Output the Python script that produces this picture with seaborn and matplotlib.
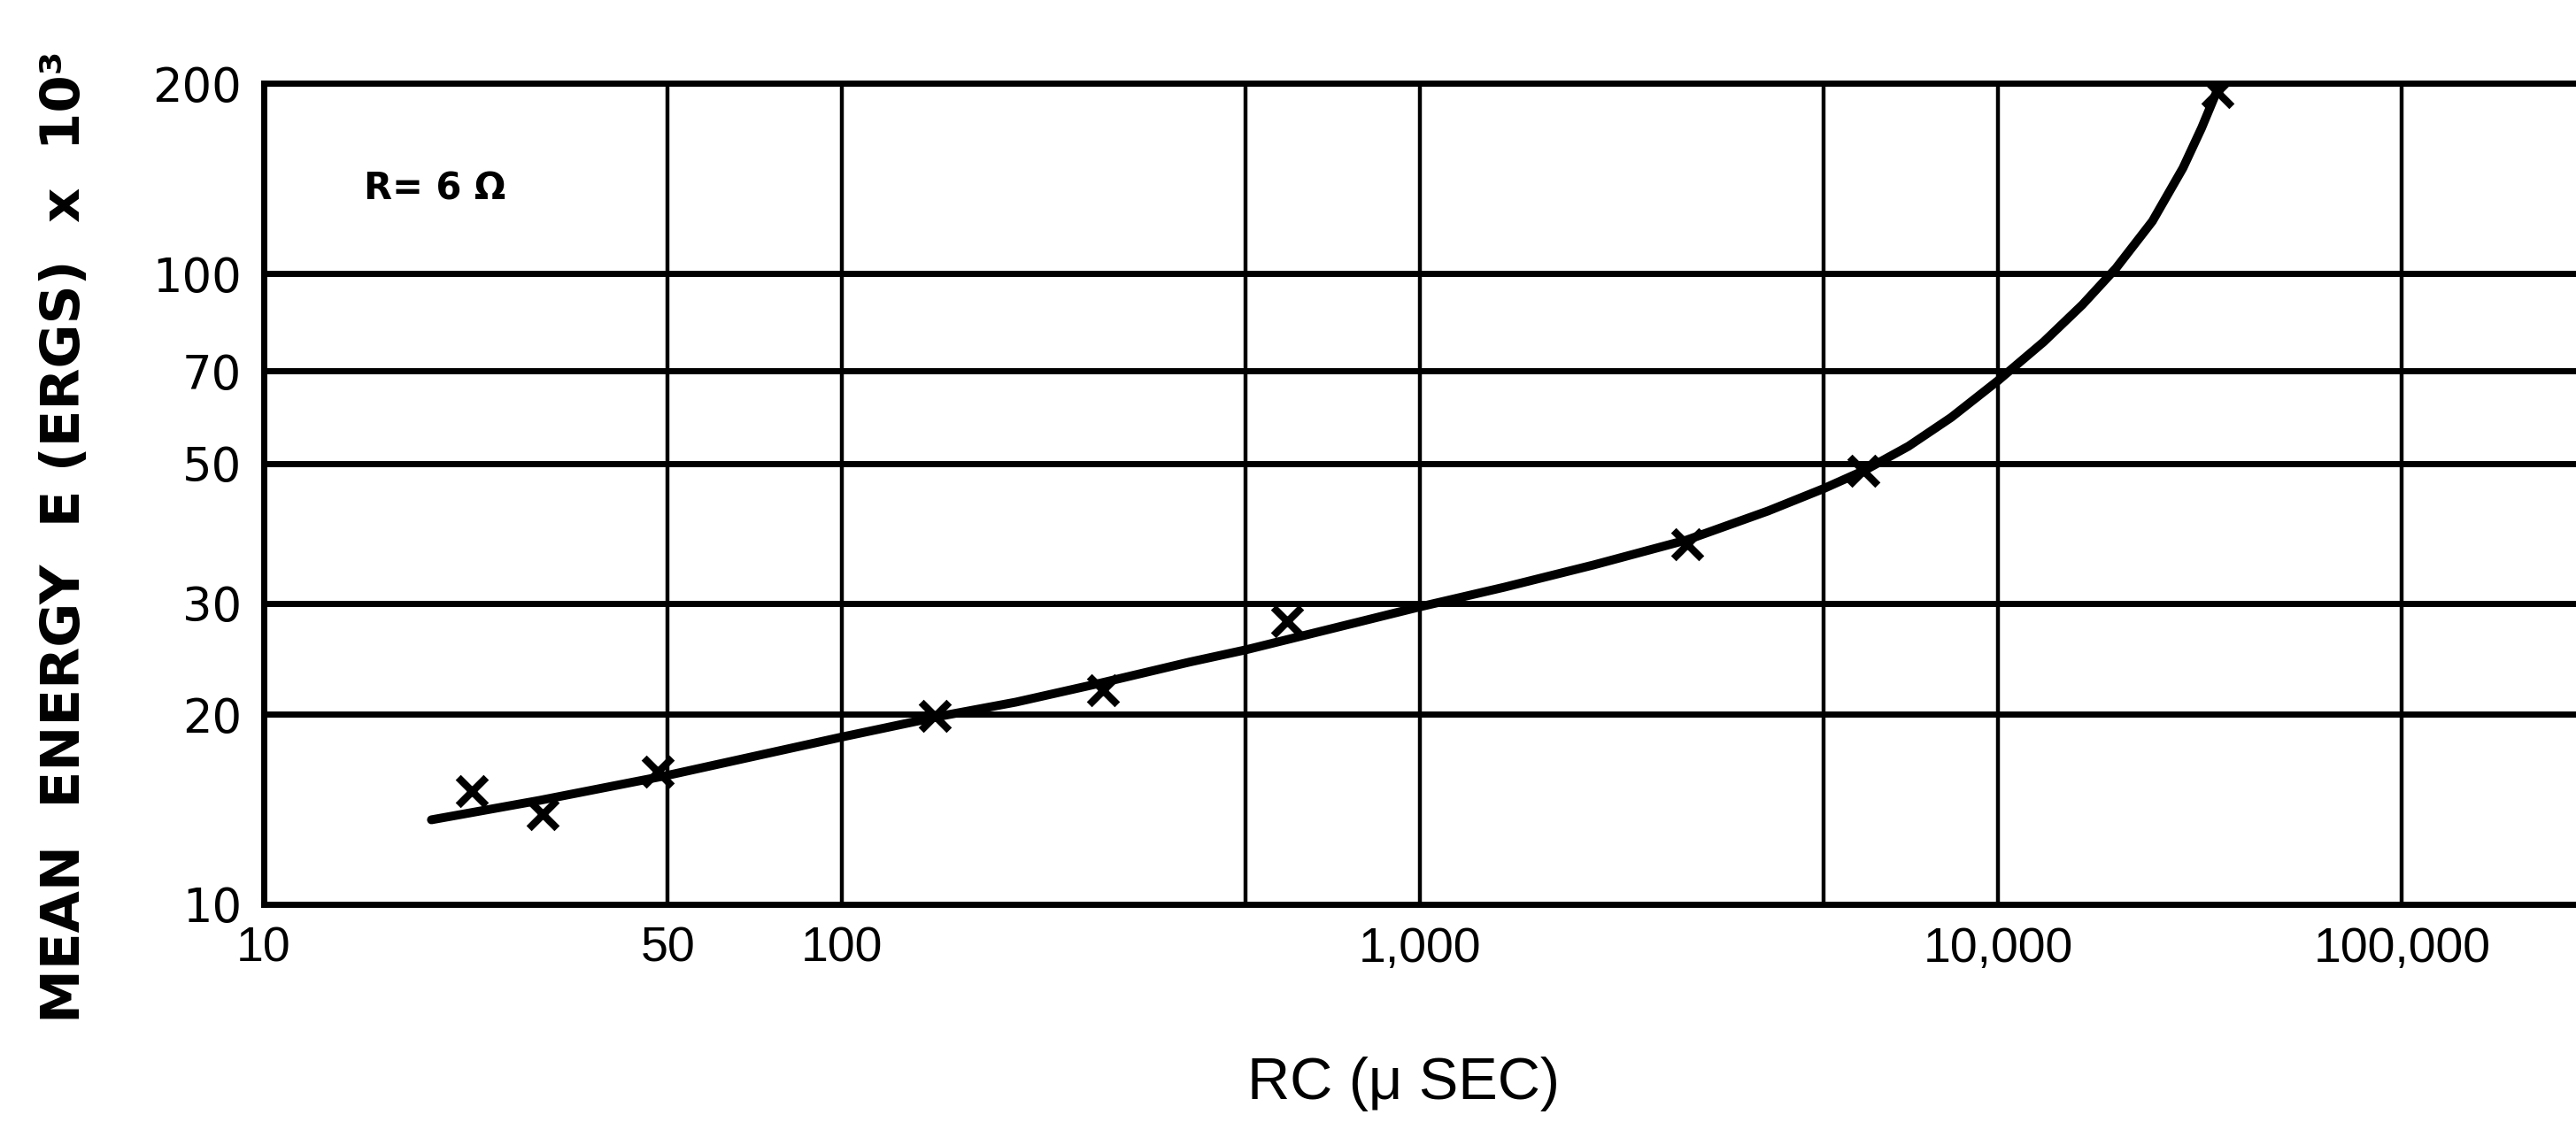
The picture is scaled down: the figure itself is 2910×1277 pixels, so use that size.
import matplotlib
matplotlib.use("Agg")
import matplotlib.pyplot as plt
import matplotlib.ticker as mticker
import seaborn as sns
import pandas as pd

# ---- data ----
curve_rc = [19.5, 30, 50, 100, 150, 200, 280, 400, 500, 700, 1000, 1400, 2000,
            2900, 4000, 5000, 5900, 7000, 8300, 10000, 12000, 14000, 16000,
            18500, 20900, 22500, 24000]
curve_energy = [13.6, 14.6, 16.0, 18.4, 19.9, 20.9, 22.4, 24.2, 25.3, 27.3, 29.6, 31.8, 34.5,
                37.8, 42.0, 45.6, 48.8, 53.2, 59.1, 67.6, 77.9, 89.2, 101.9,
                121, 147, 170, 196]

meas_rc = [22.9, 30.4, 48, 145, 283, 590, 2900, 5860, 24000]
meas_energy = [15.1, 13.9, 16.2, 19.9, 21.8, 28.1, 37.2, 48.6, 194]

x_ticks = [10, 50, 100, 500, 1000, 5000, 10000, 50000]
x_tick_labels = ["10", "50", "100", "", "1,000", "", "10,000", "100,000"]
y_ticks = [10, 20, 30, 50, 70, 100, 200]
y_tick_labels = ["10", "20", "30", "50", "70", "100", "200"]

curve_df = pd.DataFrame({"rc": curve_rc, "energy": curve_energy})
meas_df = pd.DataFrame({"rc": meas_rc, "energy": meas_energy})

sns.set_theme(style="white")
plt.rcParams["font.family"] = ["DejaVu Sans"]

narrow = ["Liberation Sans Narrow", "Liberation Sans", "DejaVu Sans"]

fig = plt.figure(figsize=(14.55, 6.385), dpi=200)
fig.patch.set_facecolor("white")
ax = fig.add_axes([0.1024, 0.200, 0.8976, 0.726])
ax.set_xscale("log")
ax.set_yscale("log")
ax.set_xlim(10, 1e5)
ax.set_ylim(10, 200)

sns.lineplot(data=curve_df, x="rc", y="energy", sort=False, color="black",
             linewidth=3.6, ax=ax, zorder=3)
sns.scatterplot(data=meas_df, x="rc", y="energy", marker="x", s=130,
                color="black", linewidth=3.0, ax=ax, zorder=4)

ax.xaxis.set_minor_locator(mticker.NullLocator())
ax.yaxis.set_minor_locator(mticker.NullLocator())
ax.set_xticks(x_ticks)
ax.set_xticklabels(x_tick_labels, fontsize=20, family=narrow)
ax.set_yticks(y_ticks)
ax.set_yticklabels(y_tick_labels, fontsize=19)
ax.tick_params(axis="both", length=0, colors="black")
ax.tick_params(axis="x", pad=9)
ax.tick_params(axis="y", pad=9)

ax.grid(axis="y", color="black", linewidth=2.5)
ax.grid(axis="x", color="black", linewidth=1.6)
ax.set_axisbelow(True)
for side in ["left", "bottom", "top"]:
    ax.spines[side].set_color("black")
    ax.spines[side].set_linewidth(2.5)
ax.spines["right"].set_visible(False)

ax.set_xlabel("")
ax.set_ylabel("")

ax.text(0.074, 0.872, "R= 6 \u03a9", transform=ax.transAxes, fontsize=15,
        fontweight="bold", ha="center", va="center", color="black")

fig.text(0.0254, 0.525, "MEAN  ENERGY  E (ERGS)  x  10\u00b3", rotation=90,
         fontsize=22, fontweight="bold", ha="center", va="center", color="black")
fig.text(0.545, 0.041, "RC (\u03bc SEC)", fontsize=24, ha="center", va="center",
         family=narrow, color="black")

fig.savefig("out.png", dpi=200, facecolor="white")
